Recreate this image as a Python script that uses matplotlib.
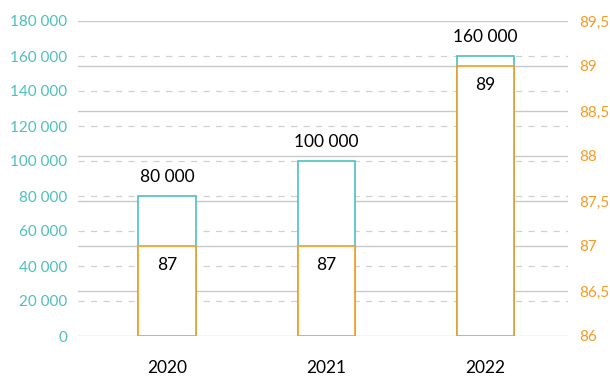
import matplotlib.pyplot as plt
import numpy as np

plt.rcParams['font.family'] = ['Lato', 'DejaVu Sans']

years = ['2020', '2021', '2022']
amount = [80000, 100000, 160000]
score = [87, 87, 89]

left_ticks = np.arange(0, 180001, 20000)
right_ticks = np.arange(86, 89.51, 0.5)
teal = '#4DBFBF'
orange = '#F59B23'

x = np.arange(len(years))
w = 0.36

fig = plt.figure(figsize=(6.1, 3.76), dpi=100)
ax = fig.add_axes([78/610, 1-336/376, (568-78)/610, (336-21)/376])
ax2 = ax.twinx()

ax.set_ylim(0, 180000)
ax2.set_ylim(86, 89.5)
ax.set_xlim(-0.56, 2.52)

# grid: dashed for left scale, solid for right scale (mapped into left units)
for v in left_ticks[1:-1]:
    ax.axhline(v, color='#D0D0D0', lw=0.9, ls=(0, (5, 5)), zorder=0)
for v in right_ticks:
    yv = (v - 86) / 3.5 * 180000
    ax.axhline(yv, color='#C8C8C8', lw=1.0, zorder=0)

ax.bar(x, amount, w, facecolor='white', edgecolor=teal, lw=1.2, zorder=2)
ax2.bar(x, np.array(score) - 86, w, bottom=86, facecolor='white',
        edgecolor=orange, lw=1.2, zorder=2)

for xi, v in zip(x, amount):
    ax.annotate(f'{v:,}'.replace(',', ' '), (xi, v), xytext=(0, 8),
                textcoords='offset points', ha='center', va='bottom',
                fontsize=12.5, color='black')
for xi, v in zip(x, score):
    ax2.annotate(str(v), (xi, v), xytext=(0, -14),
                 textcoords='offset points', ha='center', va='center',
                 fontsize=12.5, color='black')

ax.set_yticks(left_ticks)
ax.set_yticklabels([f'{v:,}'.replace(',', ' ') for v in left_ticks])
ax2.set_yticks(right_ticks)
ax2.set_yticklabels([f'{v:g}'.replace('.', ',') for v in right_ticks])
ax.set_xticks(x)
ax.set_xticklabels(years)

ax.tick_params(axis='y', length=0, pad=8, labelcolor=teal, labelsize=11)
ax2.tick_params(axis='y', length=0, pad=8, labelcolor=orange, labelsize=11)
ax.tick_params(axis='x', length=0, pad=17, labelsize=12.5)

for a in (ax, ax2):
    for s in a.spines.values():
        s.set_visible(False)

fig.savefig('out.png', dpi=100)
